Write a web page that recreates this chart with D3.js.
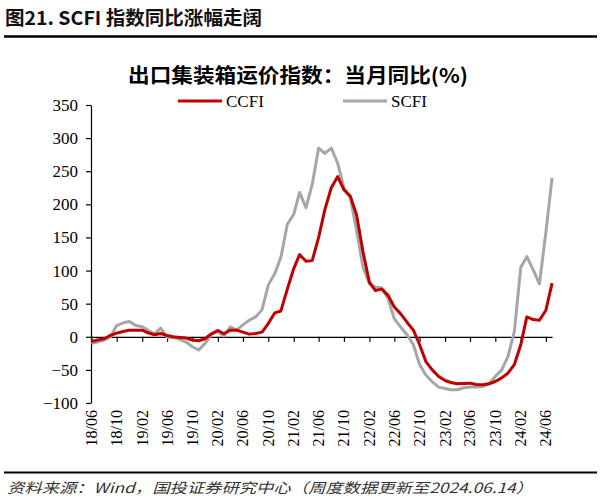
<!DOCTYPE html>
<html><head><meta charset="utf-8">
<script src="https://cdn.jsdelivr.net/npm/d3@7"></script>
<style>
html,body{margin:0;padding:0;background:#fff;}
svg{display:block;}
</style></head>
<body>
<svg id="c" width="600" height="503"></svg>
<script>
// ---- data ----
const startMonth = "2018-06";
const ccfi = [-7,-5,-3,2,5.5,8,10,10,10,6,3,5,2,0,-1,-2,-5,-6,-3,4.5,9.5,4.5,10,10,7,4,5,7,20,36,39,72,103,124,114,115,150,192,225,242,222,212,184,128,82,70,72,63,45,35,22,10,-12,-38,-50,-60,-66,-69,-71,-70.5,-70,-72,-72.5,-71,-67.5,-62,-55,-42,-12,30,26,25,40,81];
const scfi = [-10,-8,-5,0,17,21,23,17,15,10,4,13,-1,-1,-4,-8,-15,-20,-10,4,8,1,15,10,18,25,30,41,78,95,120,170,185,218,195,230,285,277,285,262,225,210,160,105,80,75,74,58,27,15,3,-12,-42,-58,-68,-76,-78,-80,-80,-77,-76,-76,-75,-71,-60,-50,-30,8,105,121,101,80,158,240];
const tickLabels = ["18/06","18/10","19/02","19/06","19/10","20/02","20/06","20/10","21/02","21/06","21/10","22/02","22/06","22/10","23/02","23/06","23/10","24/02","24/06"];
const yTicks = [-100,-50,0,50,100,150,200,250,300,350];
const seriesNames = ["CCFI","SCFI"];
const colors = ["#C00000","#A6A6A6"];

const svg = d3.select("#c");
const parse = d3.utcParse("%Y-%m");
const t0 = parse(startMonth);
const dates = ccfi.map((d,i)=>d3.utcMonth.offset(t0,i));

const x = d3.scaleUtc().domain([t0, d3.utcMonth.offset(t0,73)]).range([91.4,552.1]);
const y = d3.scaleLinear().domain([-100,350]).range([403,105]);

// header
svg.append("text").attr("x",5).attr("y",25)
  .attr("font-family","'Noto Sans CJK SC','Noto Sans',sans-serif")
  .attr("font-weight","bold").attr("font-size",19).attr("fill","#111")
  .attr("textLength",257).attr("lengthAdjust","spacingAndGlyphs")
  .text("图21. SCFI 指数同比涨幅走阔");
svg.append("line").attr("x1",4).attr("x2",597).attr("y1",36.5).attr("y2",36.5)
  .attr("stroke","#000").attr("stroke-width",2.5);

// chart title
svg.append("text").attr("x",128).attr("y",83)
  .attr("font-family","'Noto Sans CJK SC',sans-serif").attr("font-weight","bold")
  .attr("font-size",20).attr("fill","#000")
  .attr("textLength",340).attr("lengthAdjust","spacingAndGlyphs")
  .text("出口集装箱运价指数：当月同比(%)");

// legend
const legX = [178,343];
seriesNames.forEach((n,i)=>{
  svg.append("line").attr("x1",legX[i]).attr("x2",legX[i]+44).attr("y1",101).attr("y2",101)
    .attr("stroke",colors[i]).attr("stroke-width",3);
  svg.append("text").attr("x",legX[i]+48).attr("y",107)
    .attr("font-family","'Liberation Serif','Times New Roman',serif").attr("font-size",17).attr("fill","#000")
    .text(n);
});

// y axis
const yAxis = svg.append("g").attr("transform","translate(91,0)")
  .call(d3.axisLeft(y).tickValues(yTicks).tickSize(5).tickSizeOuter(0).tickPadding(8));
yAxis.select(".domain").attr("stroke","#000").attr("stroke-width",1.2);
yAxis.selectAll(".tick line").attr("stroke","#000").attr("stroke-width",1.2);
yAxis.selectAll(".tick text").attr("font-family","'Liberation Serif','Times New Roman',serif")
  .attr("font-size",17).attr("fill","#000");

// x axis at zero
const tickDates = tickLabels.map(s=>d3.utcParse("%y/%m")(s));
const xAxisG = svg.append("g").attr("transform",`translate(0,${y(0)})`)
  .call(d3.axisBottom(x).tickValues(tickDates).tickSize(5).tickSizeOuter(0).tickFormat(""));
xAxisG.select(".domain").attr("stroke","#000").attr("stroke-width",1.2);
xAxisG.selectAll(".tick line").attr("stroke","#000").attr("stroke-width",1.2);

// x labels at bottom, rotated
svg.append("g").selectAll("text").data(tickDates).join("text")
  .attr("transform",(d)=>`translate(${x(d)+5.5},410) rotate(-90)`)
  .attr("text-anchor","end")
  .attr("font-family","'Liberation Serif','Times New Roman',serif").attr("font-size",16).attr("fill","#000")
  .text((d,i)=>tickLabels[i]);

// lines
const line = d3.line().x((d,i)=>x(dates[i])).y(d=>y(d)).curve(d3.curveLinear);
[scfi, ccfi].forEach((s,k)=>{
  const ci = k===0?1:0;
  svg.append("path").datum(s).attr("d",line).attr("fill","none")
    .attr("stroke",colors[ci]).attr("stroke-width",3).attr("stroke-linejoin","round");
});

// footer
svg.append("line").attr("x1",4).attr("x2",597).attr("y1",472.5).attr("y2",472.5)
  .attr("stroke","#000").attr("stroke-width",2);
svg.append("text").attr("x",7).attr("y",493)
  .attr("font-family","'Noto Sans CJK SC',sans-serif").attr("font-style","italic")
  .attr("font-size",14).attr("fill","#333")
  .attr("textLength",526).attr("lengthAdjust","spacingAndGlyphs")
  .text("资料来源：Wind，国投证券研究中心（周度数据更新至2024.06.14）");
</script>
</body></html>
